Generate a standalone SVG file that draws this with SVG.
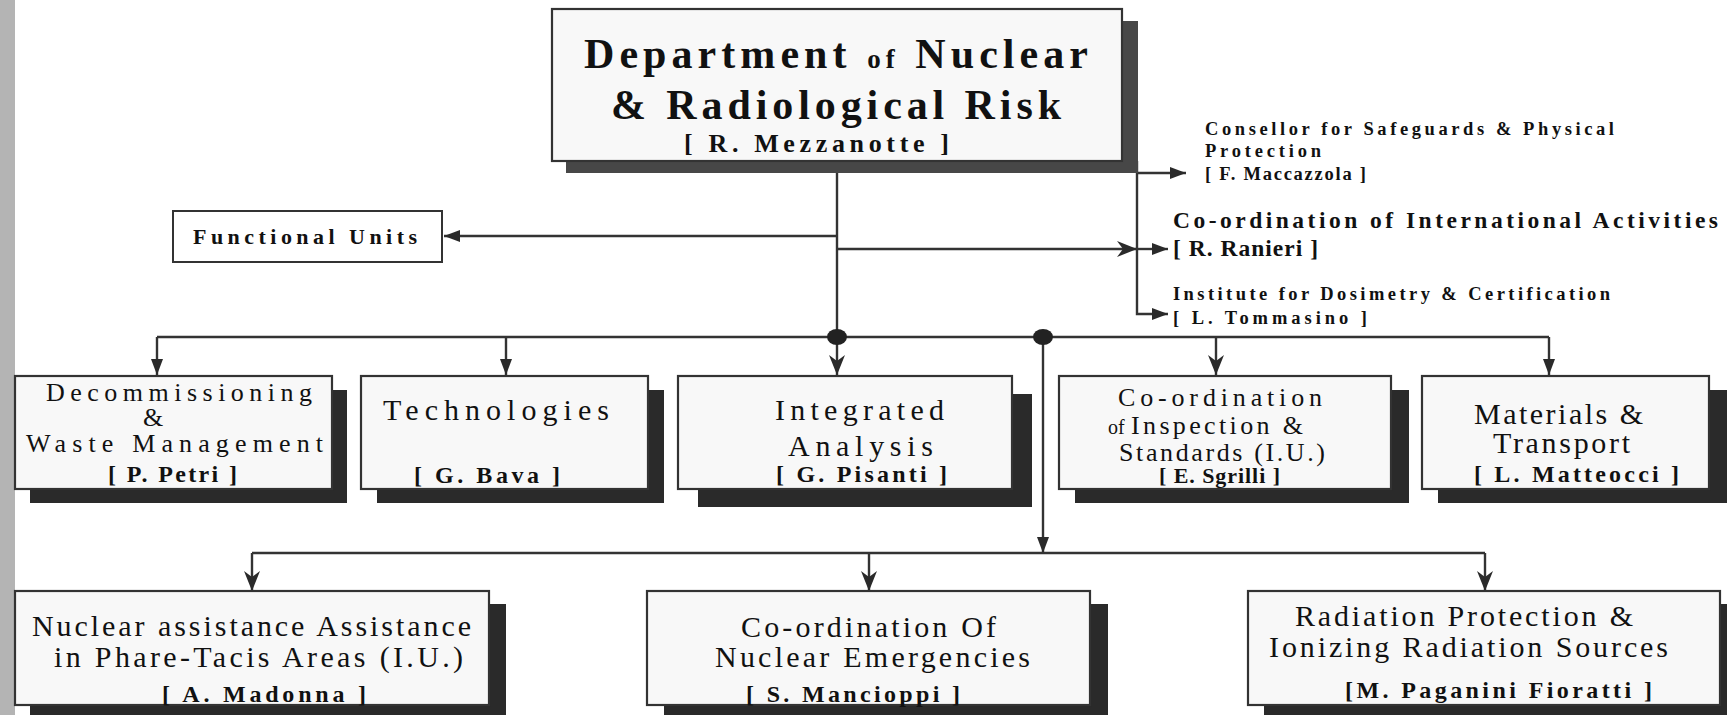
<svg xmlns="http://www.w3.org/2000/svg" width="1727" height="715" viewBox="0 0 1727 715">
  <defs>
    <style>
      .box { fill: #f8f8f8; stroke: #333; stroke-width: 2.2; }
      .shadow { fill: #2a2a2a; }
      .shadow-main { fill: #474747; }
      .plain { fill: #ffffff; stroke: #333; stroke-width: 2; }
      .ln { fill: none; stroke: #333; stroke-width: 2.4; }
      .dot { fill: #222; }
      .t { font-family: "Liberation Serif", "Times New Roman", serif; fill: #111; }
      .title { font-size: 42px; font-weight: bold; }
      .of { font-size: 27px; font-weight: bold; }
      .lbl { font-size: 30px; }
      .lbl-tight { font-size: 26px; }
      .nm { font-size: 24px; font-weight: bold; }
      .side { font-size: 18.5px; font-weight: bold; }
      .side-big { font-size: 23.5px; font-weight: bold; }
    </style>
    <marker id="tri" viewBox="0 0 16 12" refX="16" refY="6" markerWidth="16" markerHeight="12" markerUnits="userSpaceOnUse" orient="auto">
      <path d="M0,0 L16,6 L0,12 Z" fill="#2a2a2a"/>
    </marker>
    <marker id="stealth" viewBox="0 0 20 16" refX="20" refY="8" markerWidth="20" markerHeight="16" markerUnits="userSpaceOnUse" orient="auto">
      <path d="M0,0 L20,8 L0,16 L6,8 Z" fill="#2a2a2a"/>
    </marker>
  </defs>

  <rect width="1727" height="715" fill="#ffffff"/>
  <!-- page margin strip -->
  <rect x="0" y="0" width="15" height="715" fill="#b4b4b4"/>

  <!-- connectors -->
  <g id="connectors">
    <path class="ln" d="M837,161 V337"/>
    <path class="ln" d="M837,236 H444" marker-end="url(#tri)"/>
    <path class="ln" d="M837,249 H1137" marker-end="url(#stealth)"/>
    <path class="ln" d="M1137,161 V314 H1168" marker-end="url(#tri)"/>
    <path class="ln" d="M1137,173 H1186" marker-end="url(#tri)"/>
    <path class="ln" d="M1137,249 H1168" marker-end="url(#tri)"/>

    <path class="ln" d="M157,337 H1549"/>
    <path class="ln" d="M157,337 V375" marker-end="url(#tri)"/>
    <path class="ln" d="M506,337 V375" marker-end="url(#tri)"/>
    <path class="ln" d="M837,337 V375" marker-end="url(#stealth)"/>
    <path class="ln" d="M1216,337 V375" marker-end="url(#stealth)"/>
    <path class="ln" d="M1549,337 V375" marker-end="url(#tri)"/>
    <path class="ln" d="M1043,337 V553" marker-end="url(#tri)"/>

    <path class="ln" d="M252,553 H1485"/>
    <path class="ln" d="M252,553 V591" marker-end="url(#stealth)"/>
    <path class="ln" d="M869,553 V591" marker-end="url(#stealth)"/>
    <path class="ln" d="M1485,553 V591" marker-end="url(#stealth)"/>

    <ellipse class="dot" cx="837" cy="337" rx="10" ry="8"/>
    <ellipse class="dot" cx="1043" cy="337" rx="10" ry="8"/>
  </g>

  <!-- head of department -->
  <g id="node-department">
    <rect class="shadow-main" x="566" y="21" width="572" height="152"/>
    <rect class="box" x="552" y="9" width="570" height="152"/>
    <text class="t title" x="584" y="68" textLength="504" lengthAdjust="spacing">Department <tspan class="of">of</tspan> Nuclear</text>
    <text class="t title" x="611" y="119" textLength="450" lengthAdjust="spacing">&amp; Radiological Risk</text>
    <text class="t nm" x="684" y="152" textLength="265" lengthAdjust="spacing" style="font-size:26px">[ R. Mezzanotte ]</text>
  </g>

  <g id="node-functional-units">
    <rect class="plain" x="173" y="211" width="269" height="51"/>
    <text class="t" x="193" y="244" textLength="224" lengthAdjust="spacing" style="font-size:22px;font-weight:bold">Functional Units</text>
  </g>

  <g id="node-safeguards">
    <text class="t side" x="1205" y="135" textLength="409" lengthAdjust="spacing">Consellor for Safeguards &amp; Physical</text>
    <text class="t side" x="1205" y="157" textLength="116" lengthAdjust="spacing">Protection</text>
    <text class="t side" x="1205" y="180" textLength="161" lengthAdjust="spacing">[ F. Maccazzola ]</text>
  </g>

  <g id="node-international">
    <text class="t side-big" x="1173" y="228" textLength="545" lengthAdjust="spacing">Co-ordination of International Activities</text>
    <text class="t side-big" x="1173" y="256" textLength="145" lengthAdjust="spacing">[ R. Ranieri ]</text>
  </g>

  <g id="node-dosimetry">
    <text class="t side" x="1173" y="300" textLength="437" lengthAdjust="spacing">Institute for Dosimetry &amp; Certification</text>
    <text class="t side" x="1173" y="324" textLength="194" lengthAdjust="spacing">[ L. Tommasino ]</text>
  </g>

  <!-- second row -->
  <g id="node-decommissioning">
    <rect class="shadow" x="30" y="390" width="317" height="113"/>
    <rect class="box" x="15" y="376" width="317" height="113"/>
    <text class="t lbl-tight" x="46" y="401" textLength="266" lengthAdjust="spacing">Decommissioning</text>
    <text class="t lbl-tight" x="143" y="426">&amp;</text>
    <text class="t lbl-tight" x="26" y="452" textLength="297" lengthAdjust="spacing">Waste Management</text>
    <text class="t nm" x="108" y="482" textLength="129" lengthAdjust="spacing">[ P. Petri ]</text>
  </g>

  <g id="node-technologies">
    <rect class="shadow" x="377" y="390" width="287" height="113"/>
    <rect class="box" x="361" y="376" width="287" height="113"/>
    <text class="t lbl" x="383" y="420" textLength="226" lengthAdjust="spacing">Technologies</text>
    <text class="t nm" x="414" y="483" textLength="146" lengthAdjust="spacing">[ G. Bava ]</text>
  </g>

  <g id="node-integrated">
    <rect class="shadow" x="698" y="394" width="334" height="113"/>
    <rect class="box" x="678" y="376" width="334" height="113"/>
    <text class="t lbl" x="775" y="420" textLength="169" lengthAdjust="spacing">Integrated</text>
    <text class="t lbl" x="788" y="456" textLength="145" lengthAdjust="spacing">Analysis</text>
    <text class="t nm" x="776" y="482" textLength="171" lengthAdjust="spacing">[ G. Pisanti ]</text>
  </g>

  <g id="node-inspection">
    <rect class="shadow" x="1075" y="390" width="334" height="113"/>
    <rect class="box" x="1059" y="376" width="332" height="113"/>
    <text class="t lbl-tight" x="1118" y="406" textLength="204" lengthAdjust="spacing">Co-ordination</text>
    <text class="t" x="1108" y="434" style="font-size:20px">of</text>
    <text class="t lbl-tight" x="1131" y="434" textLength="172" lengthAdjust="spacing">Inspection &amp;</text>
    <text class="t lbl-tight" x="1119" y="461" textLength="206" lengthAdjust="spacing">Standards (I.U.)</text>
    <text class="t nm" x="1159" y="483" textLength="121" lengthAdjust="spacing" style="font-size:22px">[ E. Sgrilli ]</text>
  </g>

  <g id="node-materials">
    <rect class="shadow" x="1438" y="390" width="289" height="113"/>
    <rect class="box" x="1422" y="376" width="287" height="113"/>
    <text class="t lbl" x="1474" y="424" textLength="169" lengthAdjust="spacing">Materials &amp;</text>
    <text class="t lbl" x="1493" y="453" textLength="137" lengthAdjust="spacing">Transport</text>
    <text class="t nm" x="1474" y="482" textLength="205" lengthAdjust="spacing">[ L. Matteocci ]</text>
  </g>

  <!-- third row -->
  <g id="node-assistance">
    <rect class="shadow" x="30" y="604" width="476" height="114"/>
    <rect class="box" x="15" y="591" width="474" height="114"/>
    <text class="t lbl" x="32" y="636" textLength="439" lengthAdjust="spacing">Nuclear assistance Assistance</text>
    <text class="t lbl" x="54" y="667" textLength="409" lengthAdjust="spacing">in Phare-Tacis Areas (I.U.)</text>
    <text class="t nm" x="162" y="702" textLength="204" lengthAdjust="spacing">[ A. Madonna ]</text>
  </g>

  <g id="node-emergencies">
    <rect class="shadow" x="664" y="604" width="444" height="114"/>
    <rect class="box" x="647" y="591" width="443" height="114"/>
    <text class="t lbl" x="741" y="637" textLength="255" lengthAdjust="spacing">Co-ordination Of</text>
    <text class="t lbl" x="715" y="667" textLength="315" lengthAdjust="spacing">Nuclear Emergencies</text>
    <text class="t nm" x="746" y="702" textLength="214" lengthAdjust="spacing">[ S. Mancioppi ]</text>
  </g>

  <g id="node-radiation">
    <rect class="shadow" x="1264" y="604" width="463" height="114"/>
    <rect class="box" x="1248" y="591" width="472" height="114"/>
    <text class="t lbl" x="1295" y="626" textLength="338" lengthAdjust="spacing">Radiation Protection &amp;</text>
    <text class="t lbl" x="1269" y="657" textLength="399" lengthAdjust="spacing">Ionizing Radiation Sources</text>
    <text class="t nm" x="1345" y="698" textLength="307" lengthAdjust="spacing">[M. Paganini Fioratti ]</text>
  </g>
</svg>
